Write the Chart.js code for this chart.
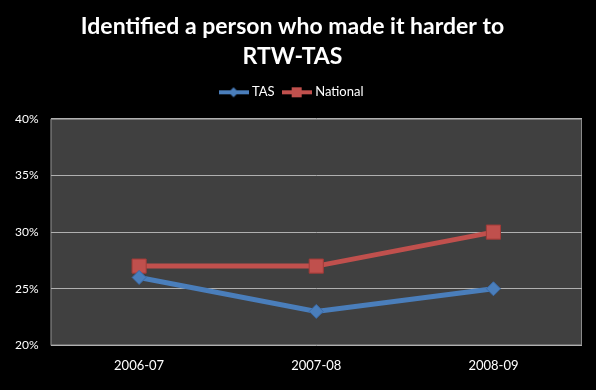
<!DOCTYPE html>
<html>
<head>
<meta charset="utf-8">
<script src="https://cdn.jsdelivr.net/npm/chart.js@4.4.1/dist/chart.umd.min.js"></script>
<style>
  html, body { margin: 0; padding: 0; background: #000; }
  #wrap { width: 596px; height: 390px; }
</style>
</head>
<body>
<div id="wrap"><canvas id="lineChart" width="596" height="390"></canvas></div>
<script>
const categories = ["2006-07", "2007-08", "2008-09"];
const tasValues = [26, 23, 25];
const nationalValues = [27, 27, 30];
const yTicks = [20, 25, 30, 35, 40];

const blue = "#4a7ebb";
const red = "#c0504d";
const fontFamily = "Lato, 'Open Sans', 'Liberation Sans', sans-serif";

// little line+marker icon for the legend
function legendIcon(color, style) {
  const c = document.createElement("canvas");
  c.width = 30;
  c.height = 12;
  const g = c.getContext("2d");
  g.strokeStyle = color;
  g.lineWidth = 4;
  g.beginPath();
  g.moveTo(0, 6);
  g.lineTo(30, 6);
  g.stroke();
  g.fillStyle = color;
  g.beginPath();
  if (style === "diamond") {
    g.moveTo(15, 1); g.lineTo(20, 6); g.lineTo(15, 11); g.lineTo(10, 6);
  } else {
    g.rect(10, 1, 10, 10);
  }
  g.fill();
  return c;
}

const plotBackground = {
  id: "plotBackground",
  beforeInit(chart) {
    // extra room under the legend
    const fit = chart.legend.fit;
    chart.legend.fit = function () {
      fit.call(this);
      this.height += 10;
    };
  },
  beforeDraw(chart) {
    const { ctx, chartArea: a } = chart;
    ctx.save();
    ctx.fillStyle = "#000";
    ctx.fillRect(0, 0, chart.width, chart.height);
    ctx.fillStyle = "#404040";
    ctx.fillRect(a.left, a.top, a.right - a.left, a.bottom - a.top);
    ctx.strokeStyle = "#8a8a8a";
    ctx.lineWidth = 1;
    ctx.strokeRect(a.left + 0.5, a.top + 0.5, a.right - a.left - 1, a.bottom - a.top - 1);
    ctx.restore();
  },
};

const ctx = document.getElementById("lineChart");
new Chart(ctx, {
  type: "line",
  data: {
    labels: categories,
    datasets: [
      {
        label: "TAS",
        data: tasValues,
        borderColor: blue,
        backgroundColor: blue,
        borderWidth: 5,
        pointStyle: "rectRot",
        pointRadius: 7,
        pointHoverRadius: 7,
        pointBorderColor: "#3a6aa8",
        pointBorderWidth: 1,
        tension: 0,
      },
      {
        label: "National",
        data: nationalValues,
        borderColor: red,
        backgroundColor: red,
        borderWidth: 5,
        pointStyle: "rect",
        pointRadius: 10,
        pointHoverRadius: 10,
        pointBorderColor: "#a03a37",
        pointBorderWidth: 1,
        tension: 0,
      },
    ],
  },
  options: {
    responsive: false,
    animation: false,
    layout: {
      padding: { left: 3, right: 14, bottom: 3, top: 0 },
    },
    scales: {
      x: {
        offset: true,
        grid: { display: false, drawTicks: false },
        border: { display: false },
        ticks: { color: "#fff", padding: 13, font: { family: fontFamily, size: 13 } },
      },
      y: {
        min: 20,
        max: 40,
        afterBuildTicks: (axis) => {
          axis.ticks = yTicks.map((v) => ({ value: v }));
        },
        grid: { color: "#b0b0b0", lineWidth: 1, drawTicks: false },
        border: { display: false },
        ticks: {
          color: "#fff",
          padding: 12,
          font: { family: fontFamily, size: 12 },
          callback: (v) => v + "%",
        },
      },
    },
    plugins: {
      title: {
        display: true,
        text: ["Identified a person who made it harder to", "RTW-TAS"],
        color: "#fff",
        font: { family: fontFamily, size: 23, weight: "bold", lineHeight: 1.3 },
        padding: { top: 12, bottom: 4 },
      },
      legend: {
        position: "top",
        labels: {
          color: "#fff",
          font: { family: fontFamily, size: 13 },
          usePointStyle: true,
          pointStyleWidth: 24,
          padding: 10,
          generateLabels: (chart) =>
            chart.data.datasets.map((ds, i) => ({
              text: ds.label,
              fontColor: "#fff",
              pointStyle: legendIcon(ds.borderColor, i === 0 ? "diamond" : "square"),
              datasetIndex: i,
              lineWidth: 0,
            })),
        },
      },
      tooltip: { enabled: false },
    },
  },
  plugins: [plotBackground],
});
</script>
</body>
</html>
